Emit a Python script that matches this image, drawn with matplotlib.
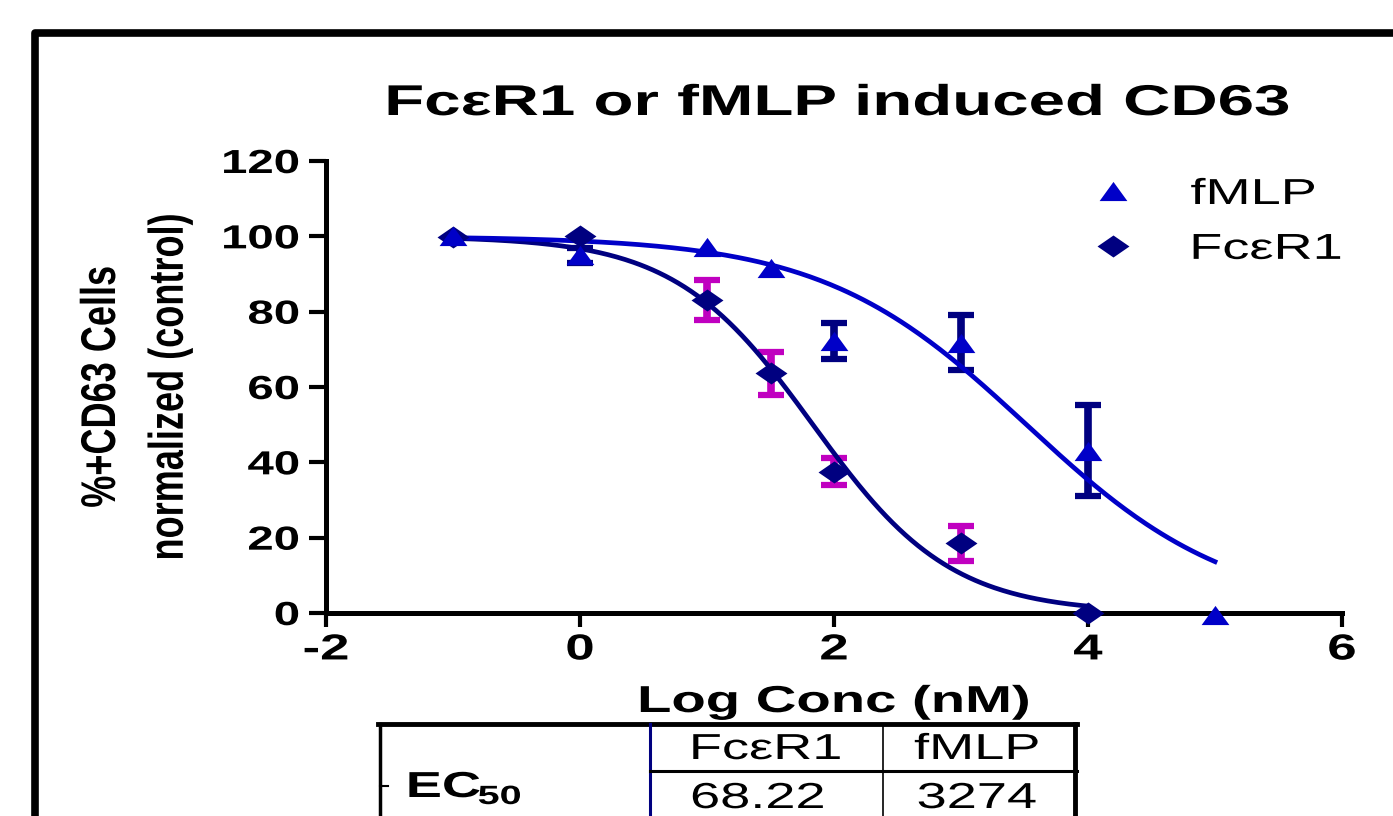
import numpy as np
import matplotlib
matplotlib.use('Agg')
import matplotlib.pyplot as plt
from matplotlib import patheffects
from matplotlib.transforms import Affine2D
from matplotlib.lines import Line2D
from matplotlib.patches import Rectangle

# values
fmlp_x = [-1, 0, 1, 1.5, 2, 3, 4, 5]
fmlp_y = [100, 95, 97.2, 91.7, 72.3, 71.8, 43.1, -0.5]
fmlp_sem = [0, 2, 0, 0, 4.8, 7.4, 12.0, 0]

fc_x = [-1, 0, 1, 1.5, 2, 3, 4]
fc_y = [99.9, 100, 83.1, 63.6, 37.5, 18.5, 0]
fc_sem = [0, 0, 5.3, 5.6, 3.6, 4.6, 0]

# dose-response fits: EC50 from the table, (top, bottom, hill)
table_cols = ['FcεR1', 'fMLP']
ec50_nm = [68.22, 3274]
ec50_txt = ['68.22', '3274']
fc_fit = (100, 0, 0.8)
fmlp_fit = (100, 0, 0.54)
fc_range = (-1, 4)
fmlp_range = (-1, 5)

yticks = [0, 20, 40, 60, 80, 100, 120]
xticks = [-2, 0, 2, 4, 6]

BLUE = '#0000C8'
NAVY = '#000080'
MAGENTA = '#C000C0'

W, H = 1393, 816


def fx(px):
    return px / W


def fy(py):
    return 1 - py / H


class Stretch(patheffects.AbstractPathEffect):
    """Draw text wider than the font, like the stretched original export."""

    def __init__(self, sx=1.5, sy=1.0, anchor='center'):
        super().__init__()
        self.sx, self.sy, self.anchor = sx, sy, anchor

    def draw_path(self, renderer, gc, tpath, affine, rgbFace=None):
        ext = tpath.get_extents(affine)
        if self.anchor == 'right':
            x0 = ext.x1
        elif self.anchor == 'left':
            x0 = ext.x0
        else:
            x0 = (ext.x0 + ext.x1) / 2
        y0 = (ext.y0 + ext.y1) / 2
        st = Affine2D().translate(-x0, -y0).scale(self.sx, self.sy).translate(x0, y0)
        renderer.draw_path(gc, tpath, affine + st, rgbFace)


def logistic(x, logec50, top, bottom, hill):
    return bottom + (top - bottom) / (1 + 10 ** ((x - logec50) * hill))


plt.rcParams['font.family'] = ['Liberation Sans', 'DejaVu Sans']
plt.rcParams['axes.unicode_minus'] = False

# wide marker shapes (original is stretched horizontally)
tri = [(-1.45, -1), (1.45, -1), (0, 1), (-1.45, -1)]
dia = [(0, 1), (1.45, 0), (0, -1), (-1.45, 0), (0, 1)]

fig = plt.figure(figsize=(W / 100, H / 100), dpi=100)
ax = fig.add_axes([fx(326), fy(613), (1342 - 326) / W, (613 - 161) / H])

# error bars (only where there is a spread)
for xs, ys, es, col in [(fc_x, fc_y, fc_sem, MAGENTA), (fmlp_x, fmlp_y, fmlp_sem, NAVY)]:
    xs, ys, es = np.array(xs), np.array(ys), np.array(es)
    m = es > 0
    ax.errorbar(xs[m], ys[m], yerr=es[m], fmt='none', ecolor=col,
                elinewidth=5.5, capsize=9.7, capthick=4.5, zorder=2)

# fitted curves
xc = np.linspace(fc_range[0], fc_range[1], 300)
ax.plot(xc, logistic(xc, np.log10(ec50_nm[0]), *fc_fit), color=NAVY, lw=3.4, zorder=3)
xc = np.linspace(fmlp_range[0], fmlp_range[1], 300)
ax.plot(xc, logistic(xc, np.log10(ec50_nm[1]), *fmlp_fit), color=BLUE, lw=3.4, zorder=3)

# points
ax.plot(fc_x, fc_y, ls='none', marker=dia, ms=23, color=NAVY, mew=0, zorder=4, clip_on=False)
ax.plot(fmlp_x, fmlp_y, ls='none', marker=tri, ms=20, color=BLUE, mew=0, zorder=5, clip_on=False)

ax.set_xlim(-2, 6)
ax.set_ylim(0, 120)
ax.set_xticks(xticks)
ax.set_yticks(yticks)
ax.set_facecolor('none')
for s in ['top', 'right']:
    ax.spines[s].set_visible(False)
for s in ['left', 'bottom']:
    ax.spines[s].set_linewidth(3.6)
ax.tick_params(axis='y', direction='out', length=12, width=3, pad=7, labelsize=24)
ax.tick_params(axis='x', direction='out', length=10, width=3, pad=4, labelsize=26)
for lbl in ax.get_yticklabels():
    lbl.set_fontweight('bold')
    lbl.set_path_effects([Stretch(1.42, anchor='right')])
for lbl in ax.get_xticklabels():
    lbl.set_fontweight('bold')
    lbl.set_path_effects([Stretch(1.46)])

# legend
handles = [Line2D([], [], ls='none', marker=tri, ms=20, color=BLUE, mew=0),
           Line2D([], [], ls='none', marker=dia, ms=23, color=NAVY, mew=0)]
leg = ax.legend(handles, ['fMLP', 'FcεR1'], loc='upper left',
                bbox_to_anchor=(fx(1095), fy(177)), bbox_transform=fig.transFigure,
                frameon=False, fontsize=26, handlelength=1.0, handletextpad=1.65,
                labelspacing=0.55, borderpad=0, borderaxespad=0)
for t in leg.get_texts():
    t.set_path_effects([Stretch(1.5, anchor='left')])

# title and axis titles
fig.text(fx(837), fy(115), 'FcεR1 or fMLP induced CD63', ha='center', va='baseline',
         fontsize=31, fontweight='bold', path_effects=[Stretch(1.52)])
fig.text(fx(834), fy(712), 'Log Conc (nM)', ha='center', va='baseline',
         fontsize=27, fontweight='bold', path_effects=[Stretch(1.5)])
fig.text(fx(101), fy(387), '%+CD63 Cells', ha='center', va='center', rotation=90,
         fontsize=26, fontweight='bold', path_effects=[Stretch(1.35)])
fig.text(fx(170), fy(387), 'normalized (control)', ha='center', va='center', rotation=90,
         fontsize=26, fontweight='bold', path_effects=[Stretch(1.35)])

# outer frame
fig.add_artist(Rectangle((fx(34.5), -0.1), 1.2, fy(33) + 0.1, transform=fig.transFigure,
                         fill=False, lw=5.5, ec='black', joinstyle='round'))

# EC50 table
def fline(x0, y0, x1, y1, **kw):
    fig.add_artist(Line2D([fx(x0), fx(x1)], [fy(y0), fy(y1)], transform=fig.transFigure, **kw))

fline(378, 724, 1077, 724, color='black', lw=3.5)
fline(380, 724, 380, 830, color='black', lw=2.5)
fline(1075, 724, 1075, 830, color='black', lw=3.5)
fline(650, 724, 650, 830, color=NAVY, lw=2.2)
fline(883, 724, 883, 830, color='black', lw=1.2)
fline(650, 771, 1077, 771, color='black', lw=2.2)
fline(380, 786, 388, 786, color='black', lw=1.5)

col_centers = [766, 977]
for cx, name, val in zip(col_centers, table_cols, ec50_txt):
    fig.text(fx(cx), fy(759), name, ha='center', va='baseline', fontsize=26,
             path_effects=[Stretch(1.5)])
    fig.text(fx(cx - 8 if name == table_cols[0] else cx), fy(808), val, ha='center',
             va='baseline', fontsize=26, path_effects=[Stretch(1.5)])
fig.text(fx(407), fy(797), 'EC', ha='left', va='baseline', fontsize=26, fontweight='bold',
         path_effects=[Stretch(1.5, anchor='left')])
fig.text(fx(478), fy(804), '50', ha='left', va='baseline', fontsize=19, fontweight='bold',
         path_effects=[Stretch(1.5, anchor='left')])

fig.savefig('out.png', dpi=100)
